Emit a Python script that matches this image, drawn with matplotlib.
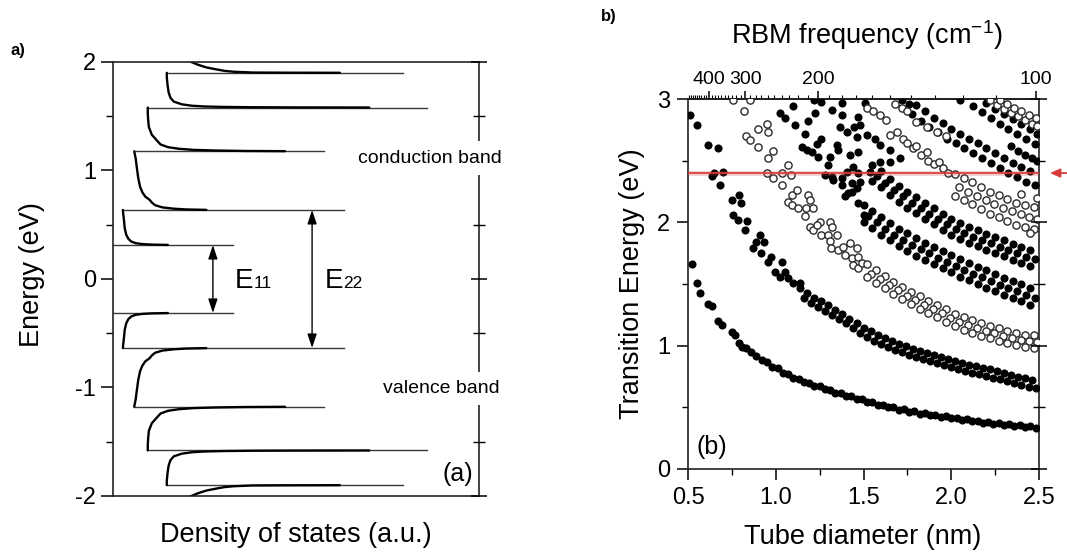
import numpy as np
import matplotlib
matplotlib.use("Agg")
import matplotlib.pyplot as plt
from matplotlib.ticker import MultipleLocator, FixedLocator

plt.rcParams["font.family"] = ["Liberation Sans", "DejaVu Sans"]
plt.rcParams["axes.unicode_minus"] = False
plt.rcParams["mathtext.fontset"] = "custom"
plt.rcParams["mathtext.rm"] = "Liberation Sans"
plt.rcParams["mathtext.it"] = "Liberation Sans:italic"

# ------------------------------------------
# PANEL (a): DOS of a semiconducting tube
# ------------------------------------------
# van Hove peaks (eV) and the x range (a.u.) of each peak line
peak_energy = [0.313, 0.636, 1.177, 1.58, 1.90]
peak_start = [0.0, 0.27, 0.58, 0.95, 1.47]
peak_end = [3.27, 6.31, 5.77, 8.59, 7.93]

# tails above each peak: (energy, DOS)
tail1 = [(0.314, 1.50), (0.317, 1.05), (0.322, 0.80), (0.33, 0.62), (0.345, 0.50),
         (0.37, 0.42), (0.41, 0.36), (0.47, 0.32), (0.54, 0.30), (0.60, 0.28), (0.636, 0.27)]
tail2 = [(0.637, 2.55), (0.641, 2.00), (0.648, 1.65), (0.66, 1.35), (0.68, 1.15),
         (0.705, 1.06), (0.73, 1.00), (0.76, 0.88), (0.80, 0.80), (0.85, 0.74),
         (0.93, 0.69), (1.03, 0.65), (1.11, 0.62), (1.177, 0.58)]
tail3 = [(1.178, 4.70), (1.180, 3.60), (1.184, 2.80), (1.19, 2.20), (1.20, 1.80),
         (1.215, 1.50), (1.24, 1.30), (1.28, 1.19), (1.33, 1.06), (1.40, 0.98),
         (1.47, 0.96), (1.53, 0.95), (1.58, 0.95)]
tail4 = [(1.5805, 7.00), (1.5815, 5.00), (1.583, 3.80), (1.586, 3.00), (1.59, 2.50),
         (1.597, 2.15), (1.61, 1.88), (1.635, 1.66), (1.67, 1.57), (1.72, 1.52),
         (1.79, 1.49), (1.86, 1.47), (1.90, 1.47)]
tail5 = [(1.9005, 6.20), (1.9015, 4.60), (1.903, 3.80), (1.906, 3.60), (1.91, 3.30),
         (1.918, 3.05), (1.93, 2.85), (1.95, 2.55), (1.975, 2.32), (2.0, 2.14), (2.03, 2.00)]

# ------------------------------------------
# PANEL (b): Kataura plot, (diameter nm, energy eV)
# ------------------------------------------
s11_pts = [(0.52, 1.66), (0.55, 1.51), (0.57, 1.43), (0.615, 1.34), (0.635, 1.32), (0.673, 1.20),
           (0.692, 1.17), (0.75, 1.11), (0.77, 1.09), (0.79, 1.02), (0.81, 0.99),
           (0.83, 0.985), (0.86, 0.945), (0.89, 0.92), (0.92, 0.88), (0.95, 0.865), (0.98, 0.825),
           (1.01, 0.815), (1.04, 0.78), (1.07, 0.77), (1.10, 0.74), (1.13, 0.73), (1.16, 0.705),
           (1.19, 0.70), (1.22, 0.675), (1.25, 0.67), (1.28, 0.645), (1.31, 0.64), (1.34, 0.615),
           (1.37, 0.615), (1.40, 0.59), (1.43, 0.59), (1.46, 0.565), (1.49, 0.565), (1.52, 0.545),
           (1.55, 0.54), (1.58, 0.52), (1.61, 0.52), (1.64, 0.50), (1.67, 0.50), (1.70, 0.48),
           (1.73, 0.483), (1.76, 0.465), (1.79, 0.468), (1.82, 0.45), (1.85, 0.453), (1.88, 0.436),
           (1.91, 0.439), (1.94, 0.423), (1.97, 0.426), (2.00, 0.41), (2.03, 0.414), (2.06, 0.398),
           (2.09, 0.402), (2.12, 0.387), (2.15, 0.391), (2.18, 0.376), (2.21, 0.381), (2.24, 0.366),
           (2.27, 0.371), (2.30, 0.356), (2.33, 0.361), (2.36, 0.347), (2.39, 0.353), (2.42, 0.339),
           (2.45, 0.345), (2.48, 0.332)]

s22_pts = [(0.511, 2.87), (0.553, 2.79), (0.616, 2.63), (0.673, 2.60), (0.635, 2.38), (0.648, 2.40),
           (0.70, 2.41), (0.685, 2.30), (0.75, 2.18), (0.79, 2.22), (0.80, 2.16), (0.758, 2.06),
           (0.783, 2.02), (0.838, 2.01), (0.825, 1.94), (0.91, 1.90), (0.886, 1.84), (0.933, 1.84),
           (0.872, 1.79), (0.916, 1.75), (0.973, 1.72), (0.958, 1.68), (1.034, 1.68), (0.996, 1.60),
           (1.053, 1.60), (1.024, 1.56), (1.07, 1.55), (1.10, 1.51), (1.138, 1.505),
           (1.14, 1.47), (1.18, 1.43), (1.22, 1.39), (1.26, 1.36), (1.30, 1.33), (1.34, 1.29),
           (1.38, 1.26), (1.42, 1.22), (1.46, 1.18), (1.50, 1.14), (1.54, 1.115), (1.58, 1.09),
           (1.62, 1.06), (1.66, 1.035), (1.70, 1.015), (1.74, 0.995), (1.78, 0.975), (1.82, 0.96),
           (1.86, 0.94), (1.90, 0.925), (1.94, 0.91), (1.98, 0.892), (2.02, 0.877), (2.06, 0.862),
           (2.10, 0.847), (2.14, 0.833), (2.18, 0.82), (2.22, 0.807), (2.26, 0.793), (2.30, 0.78),
           (2.34, 0.765), (2.38, 0.75), (2.42, 0.735), (2.46, 0.72),
           (1.16, 1.39), (1.20, 1.35), (1.24, 1.315), (1.28, 1.285), (1.32, 1.25), (1.36, 1.215),
           (1.40, 1.18), (1.44, 1.14), (1.48, 1.10), (1.52, 1.07), (1.56, 1.042), (1.60, 1.015),
           (1.64, 0.988), (1.68, 0.965), (1.72, 0.945), (1.76, 0.925), (1.80, 0.907), (1.84, 0.89),
           (1.88, 0.873), (1.92, 0.857), (1.96, 0.84), (2.00, 0.825), (2.04, 0.81), (2.08, 0.795),
           (2.12, 0.78), (2.16, 0.767), (2.20, 0.753), (2.24, 0.74), (2.28, 0.727), (2.32, 0.712),
           (2.36, 0.697), (2.40, 0.682), (2.44, 0.667), (2.48, 0.653)]

m11_pts = [(0.758, 2.99), (0.853, 2.99), (0.821, 2.90), (0.897, 2.76), (0.948, 2.795), (0.958, 2.73),
           (0.83, 2.70), (0.853, 2.67), (0.897, 2.61), (0.986, 2.58), (0.958, 2.52), (1.068, 2.465),
           (0.948, 2.398), (0.986, 2.357), (1.034, 2.398), (1.087, 2.385), (1.034, 2.30), (1.094, 2.22),
           (1.123, 2.26), (1.068, 2.163), (1.09, 2.14), (1.125, 2.114), (1.186, 2.22), (1.195, 2.18),
           (1.17, 2.114), (1.214, 2.114), (1.167, 2.05), (1.195, 1.965), (1.214, 1.94), (1.252, 2.006),
           (1.233, 1.98), (1.258, 1.90), (1.31, 2.00), (1.32, 1.965), (1.30, 1.90), (1.35, 1.90),
           (1.31, 1.85), (1.313, 1.79), (1.353, 1.776), (1.385, 1.80), (1.423, 1.83), (1.46, 1.79),
           (1.395, 1.736), (1.433, 1.71), (1.47, 1.72), (1.44, 1.655), (1.47, 1.63), (1.49, 1.668),
           (1.52, 1.66), (1.57, 1.61), (1.62, 1.565), (1.67, 1.52), (1.72, 1.475), (1.77, 1.435),
           (1.82, 1.40), (1.87, 1.365), (1.92, 1.33), (1.97, 1.295), (2.02, 1.26), (2.07, 1.23),
           (2.12, 1.205), (2.17, 1.18), (2.22, 1.16), (2.27, 1.14), (2.32, 1.12), (2.37, 1.105),
           (2.42, 1.09), (2.47, 1.085),
           (1.545, 1.585), (1.595, 1.54), (1.645, 1.49), (1.695, 1.45), (1.745, 1.405), (1.795, 1.37),
           (1.845, 1.333), (1.895, 1.30), (1.945, 1.263), (1.995, 1.228), (2.045, 1.195), (2.095, 1.168),
           (2.145, 1.143), (2.195, 1.12), (2.245, 1.10), (2.295, 1.08), (2.345, 1.063), (2.395, 1.048),
           (2.445, 1.037), (2.49, 1.03),
           (1.52, 1.56), (1.57, 1.51), (1.62, 1.465), (1.67, 1.42), (1.72, 1.375), (1.77, 1.335),
           (1.82, 1.30), (1.87, 1.265), (1.92, 1.23), (1.97, 1.195), (2.02, 1.16), (2.07, 1.13),
           (2.12, 1.105), (2.17, 1.08), (2.22, 1.06), (2.27, 1.04), (2.32, 1.02), (2.37, 1.005),
           (2.42, 0.99), (2.47, 0.985)]

# scattered filled points in the upper-left (start of S33 / S44)
solid_misc_pts = [(1.024, 2.885), (1.053, 2.845), (1.10, 2.94), (1.11, 2.79), (1.167, 2.72), (1.186, 2.82),
                  (1.224, 2.885), (1.22, 2.99), (1.26, 2.98), (1.32, 2.91), (1.376, 2.966), (1.376, 2.87),
                  (1.366, 2.776), (1.404, 2.735), (1.448, 2.776), (1.47, 2.857), (1.46, 2.695), (1.148, 2.614),
                  (1.176, 2.587), (1.205, 2.573), (1.233, 2.633), (1.26, 2.68), (1.243, 2.533), (1.31, 2.533),
                  (1.347, 2.627), (1.357, 2.587), (1.30, 2.465), (1.28, 2.385), (1.32, 2.37), (1.328, 2.344),
                  (1.376, 2.357), (1.376, 2.30), (1.408, 2.41), (1.44, 2.45), (1.47, 2.573), (1.423, 2.547),
                  (1.47, 2.398), (1.413, 2.236), (1.395, 2.21), (1.433, 2.25), (1.46, 2.276), (1.433, 2.317),
                  (1.48, 2.33), (1.47, 2.155), (1.505, 2.06), (1.51, 2.97), (1.48, 2.79), (1.52, 2.71),
                  (1.566, 2.68), (1.594, 2.63), (1.65, 2.587), (1.708, 2.52), (1.594, 2.49), (1.65, 2.49),
                  (1.537, 2.41)]

s33_pts = [(1.50, 2.14), (1.55, 2.095), (1.60, 2.04), (1.65, 1.995), (1.70, 1.95), (1.75, 1.91),
           (1.80, 1.87), (1.85, 1.835), (1.90, 1.80), (1.95, 1.77), (2.00, 1.735), (2.05, 1.70),
           (2.10, 1.67), (2.15, 1.64), (2.20, 1.61), (2.25, 1.58), (2.30, 1.55), (2.35, 1.525),
           (2.40, 1.50), (2.45, 1.47),
           (1.525, 2.05), (1.575, 2.00), (1.625, 1.95), (1.675, 1.90), (1.725, 1.86), (1.775, 1.82),
           (1.825, 1.78), (1.875, 1.75), (1.925, 1.715), (1.975, 1.68), (2.025, 1.65), (2.075, 1.615),
           (2.125, 1.585), (2.175, 1.555), (2.225, 1.525), (2.275, 1.495), (2.325, 1.47), (2.375, 1.44),
           (2.425, 1.415), (2.475, 1.39),
           (1.50, 2.00), (1.55, 1.955), (1.60, 1.90), (1.65, 1.855), (1.70, 1.81), (1.75, 1.77),
           (1.80, 1.73), (1.85, 1.695), (1.90, 1.66), (1.95, 1.63), (2.00, 1.595), (2.05, 1.56),
           (2.10, 1.53), (2.15, 1.50), (2.20, 1.47), (2.25, 1.44), (2.30, 1.41), (2.35, 1.385),
           (2.40, 1.36), (2.45, 1.33)]

s44_pts = [(1.55, 2.465), (1.60, 2.415), (1.65, 2.355), (1.70, 2.295), (1.75, 2.25), (1.80, 2.205),
           (1.85, 2.16), (1.90, 2.115), (1.95, 2.07), (2.00, 2.03), (2.05, 1.995), (2.10, 1.965),
           (2.15, 1.935), (2.20, 1.905), (2.25, 1.88), (2.30, 1.855), (2.35, 1.825), (2.40, 1.80),
           (2.45, 1.775),
           (1.575, 2.375), (1.625, 2.32), (1.675, 2.26), (1.725, 2.21), (1.775, 2.16), (1.825, 2.12),
           (1.875, 2.07), (1.925, 2.03), (1.975, 1.985), (2.025, 1.95), (2.075, 1.915), (2.125, 1.885),
           (2.175, 1.855), (2.225, 1.83), (2.275, 1.80), (2.325, 1.775), (2.375, 1.75), (2.425, 1.72),
           (2.475, 1.70),
           (1.55, 2.335), (1.60, 2.285), (1.65, 2.225), (1.70, 2.165), (1.75, 2.12), (1.80, 2.075),
           (1.85, 2.03), (1.90, 1.985), (1.95, 1.94), (2.00, 1.90), (2.05, 1.865), (2.10, 1.835),
           (2.15, 1.805), (2.20, 1.775), (2.25, 1.75), (2.30, 1.725), (2.35, 1.695), (2.40, 1.67),
           (2.45, 1.645)]

m22_pts = [(1.52, 2.93), (1.556, 2.90), (1.594, 2.87), (1.63, 2.83), (1.65, 2.71), (1.69, 2.73),
           (1.727, 2.68), (1.75, 2.64), (1.78, 2.60), (1.80, 2.62), (1.83, 2.55), (1.86, 2.573),
           (1.87, 2.50), (1.90, 2.47), (1.93, 2.49), (1.95, 2.44), (1.98, 2.40), (1.68, 2.96),
           (1.72, 2.93), (1.75, 2.90), (1.80, 2.81), (1.86, 2.77), (1.92, 2.73), (1.97, 2.70),
           (2.02, 2.395), (2.07, 2.36), (2.12, 2.325), (2.17, 2.285), (2.22, 2.25), (2.27, 2.22),
           (2.32, 2.19), (2.37, 2.16), (2.42, 2.14), (2.47, 2.125),
           (2.045, 2.285), (2.095, 2.25), (2.145, 2.215), (2.195, 2.18), (2.245, 2.145), (2.295, 2.115),
           (2.345, 2.09), (2.395, 2.065), (2.445, 2.045), (2.49, 2.03),
           (2.02, 2.215), (2.07, 2.18), (2.12, 2.145), (2.17, 2.105), (2.22, 2.07), (2.27, 2.04),
           (2.32, 2.01), (2.37, 1.98), (2.42, 1.96), (2.47, 1.945), (2.45, 1.91), (2.49, 2.20),
           (2.40, 2.23)]

s55_pts = [(1.72, 2.99), (1.76, 2.96), (1.80, 2.95), (1.85, 2.90), (1.90, 2.85), (1.95, 2.805),
           (2.00, 2.76), (2.05, 2.72), (2.10, 2.68), (2.15, 2.64), (2.20, 2.60), (2.25, 2.56),
           (2.30, 2.52), (2.35, 2.485), (2.40, 2.45), (2.45, 2.415),
           (1.775, 2.875), (1.825, 2.825), (1.875, 2.775), (1.925, 2.73), (1.975, 2.68), (2.025, 2.64),
           (2.075, 2.60), (2.125, 2.56), (2.175, 2.52), (2.225, 2.48), (2.275, 2.44), (2.325, 2.40),
           (2.375, 2.37), (2.425, 2.33), (2.475, 2.30)]

s66_pts = [(2.05, 2.99), (2.20, 2.97), (2.25, 2.92), (2.30, 2.88), (2.35, 2.835), (2.40, 2.795),
           (2.45, 2.755), (2.125, 2.945), (2.175, 2.895), (2.225, 2.845), (2.275, 2.80), (2.325, 2.755),
           (2.375, 2.715), (2.425, 2.675), (2.475, 2.635), (2.34, 2.62), (2.38, 2.58), (2.42, 2.55),
           (2.46, 2.52), (2.49, 2.50), (2.49, 2.72)]

m33_pts = [(2.22, 2.99), (2.26, 2.95), (2.30, 2.92), (2.34, 2.89), (2.38, 2.86), (2.42, 2.83),
           (2.46, 2.80), (2.49, 2.78), (2.28, 2.99), (2.32, 2.96), (2.36, 2.93), (2.40, 2.90),
           (2.44, 2.87), (2.48, 2.85)]

laser_energy = 2.40
rbm_major = [100, 200, 300, 400]
rbm_minor = [f for f in range(110, 500, 10) if f not in rbm_major]

RED = "#d63c3c"


def to_rbm(x):
    x = np.asarray(x, dtype=float)
    with np.errstate(divide="ignore"):
        return 248.0 / x


def dots(ax, pts, hollow=False):
    d, e = np.array(pts).T
    if hollow:
        ax.scatter(d, e, s=27, facecolors="white", edgecolors="#2b2b2b", linewidths=1.0, zorder=3)
    else:
        ax.scatter(d, e, s=34, color="black", linewidths=0, zorder=3)


fig = plt.figure(figsize=(10.67, 5.53), dpi=100)
ax1 = fig.add_axes([0.1059, 0.1031, 0.343, 0.7848])
ax2 = fig.add_axes([0.6448, 0.1519, 0.329, 0.669])

# ------------------------------------------
# DRAW PANEL (a)
# ------------------------------------------
for sign in (1, -1):
    for e, x0, x1 in zip(peak_energy, peak_start, peak_end):
        ax1.plot([x0, x1], [sign * e, sign * e], color="#3a3a3a", lw=1.0)
    for tail in (tail1, tail2, tail3, tail4, tail5):
        e, x = np.array(tail).T
        ax1.plot(x, sign * e, color="black", lw=1.7, solid_capstyle="round")

ax1.annotate("", xy=(2.73, peak_energy[0]), xytext=(2.73, -peak_energy[0]),
             arrowprops=dict(arrowstyle="<|-|>,head_length=0.6,head_width=0.2", color="black",
                             lw=1.0, mutation_scale=14, shrinkA=0, shrinkB=0))
ax1.annotate("", xy=(5.44, peak_energy[1]), xytext=(5.44, -peak_energy[1]),
             arrowprops=dict(arrowstyle="<|-|>,head_length=0.6,head_width=0.2", color="black",
                             lw=1.0, mutation_scale=14, shrinkA=0, shrinkB=0))
ax1.text(3.33, -0.085, "E", fontsize=20, va="baseline")
ax1.text(3.83, -0.085, "11", fontsize=12.5, va="baseline")
ax1.text(5.79, -0.085, "E", fontsize=20, va="baseline")
ax1.text(6.29, -0.085, "22", fontsize=12.5, va="baseline")
ax1.text(9.84, -1.80, "(a)", fontsize=18, ha="right", va="center")

ax1.set_xlim(0, 10)
ax1.set_ylim(-2, 2)
ax1.set_xticks([])
ax1.yaxis.set_major_locator(MultipleLocator(1))
ax1.yaxis.set_minor_locator(MultipleLocator(0.5))
ax1.tick_params(axis="y", which="major", direction="out", length=9, width=1.1, labelsize=17, pad=3)
ax1.tick_params(axis="y", which="minor", direction="out", length=5, width=1.0)
for sp in ax1.spines.values():
    sp.set_linewidth(1.2)
    sp.set_color("#222222")

# right-hand ticks cross the frame
tw1 = ax1.twinx()
tw1.set_ylim(-2, 2)
tw1.yaxis.set_major_locator(MultipleLocator(1))
tw1.yaxis.set_minor_locator(MultipleLocator(0.5))
tw1.tick_params(axis="y", which="major", direction="inout", length=11, width=1.1, labelright=False)
tw1.tick_params(axis="y", which="minor", direction="inout", length=8, width=1.0)
for sp in tw1.spines.values():
    sp.set_visible(False)
tw1.text(6.69, 1.115, "conduction band", fontsize=14, va="center", ha="left",
         bbox=dict(facecolor="white", edgecolor="none", pad=6))
tw1.text(7.38, -1.01, "valence band", fontsize=14, va="center", ha="left",
         bbox=dict(facecolor="white", edgecolor="none", pad=6))

fig.text(32 / 1067, 1 - 275 / 553, "Energy (eV)", rotation=90, fontsize=19.5, ha="center", va="center")
fig.text(296 / 1067, 1 - 535 / 553, "Density of states (a.u.)", fontsize=19.5, ha="center", va="center")
fig.text(18 / 1067, 1 - 50 / 553, "a)", fontsize=12, fontweight="bold", ha="center", va="center")

# ------------------------------------------
# DRAW PANEL (b)
# ------------------------------------------
for pts in (s11_pts, s22_pts, solid_misc_pts, s33_pts, s44_pts, s55_pts, s66_pts):
    dots(ax2, pts)
for pts in (m11_pts, m22_pts, m33_pts):
    dots(ax2, pts, hollow=True)

ax2.axhline(laser_energy, color=RED, lw=3.5, alpha=0.25, zorder=4)
ax2.axhline(laser_energy, color=RED, lw=1.3, alpha=0.95, zorder=4)
ax2.annotate("", xy=(1.031, laser_energy), xytext=(1.09, laser_energy),
             xycoords=("axes fraction", "data"), textcoords=("axes fraction", "data"),
             annotation_clip=False,
             arrowprops=dict(arrowstyle="-|>,head_length=0.5,head_width=0.22", color=RED,
                             lw=1.3, mutation_scale=12, shrinkA=0, shrinkB=0))
ax2.text(0.551, 0.18, "(b)", fontsize=18, ha="left", va="center")

ax2.set_xlim(0.5, 2.5)
ax2.set_ylim(0, 3)
ax2.xaxis.set_major_locator(MultipleLocator(0.5))
ax2.xaxis.set_minor_locator(MultipleLocator(0.25))
ax2.yaxis.set_major_locator(MultipleLocator(1))
ax2.yaxis.set_minor_locator(MultipleLocator(0.5))
ax2.xaxis.set_major_formatter(plt.FuncFormatter(lambda v, p: f"{v:.1f}"))
ax2.tick_params(which="major", direction="out", length=8, width=1.1, labelsize=17, pad=5)
ax2.tick_params(which="minor", direction="out", length=4, width=1.0)
for sp in ax2.spines.values():
    sp.set_linewidth(1.2)
    sp.set_color("#222222")

tw2 = ax2.twinx()
tw2.set_ylim(0, 3)
tw2.yaxis.set_major_locator(MultipleLocator(1))
tw2.yaxis.set_minor_locator(MultipleLocator(0.5))
tw2.tick_params(axis="y", which="major", direction="inout", length=11, width=1.1, labelright=False)
tw2.tick_params(axis="y", which="minor", direction="inout", length=8, width=1.0)
for sp in tw2.spines.values():
    sp.set_visible(False)

top = ax2.secondary_xaxis("top", functions=(to_rbm, to_rbm))
top.xaxis.set_major_locator(FixedLocator(rbm_major))
top.xaxis.set_minor_locator(FixedLocator(rbm_minor))
top.tick_params(which="major", direction="out", length=6, width=1.1, labelsize=14, pad=2)
top.tick_params(which="minor", direction="out", length=3, width=0.8)
top.spines["top"].set_linewidth(1.2)

fig.text(867 / 1067, 1 - 35 / 553, "RBM frequency (cm$^{-1}$)", fontsize=19.5, ha="center", va="center")
fig.text(632 / 1067, 1 - 284 / 553, "Transition Energy (eV)", rotation=90, fontsize=19.5,
         ha="center", va="center")
fig.text(863 / 1067, 1 - 537 / 553, "Tube diameter (nm)", fontsize=19.5, ha="center", va="center")
fig.text(609 / 1067, 1 - 16 / 553, "b)", fontsize=12, fontweight="bold", ha="center", va="center")

fig.savefig("out.png", dpi=100, facecolor="white")
